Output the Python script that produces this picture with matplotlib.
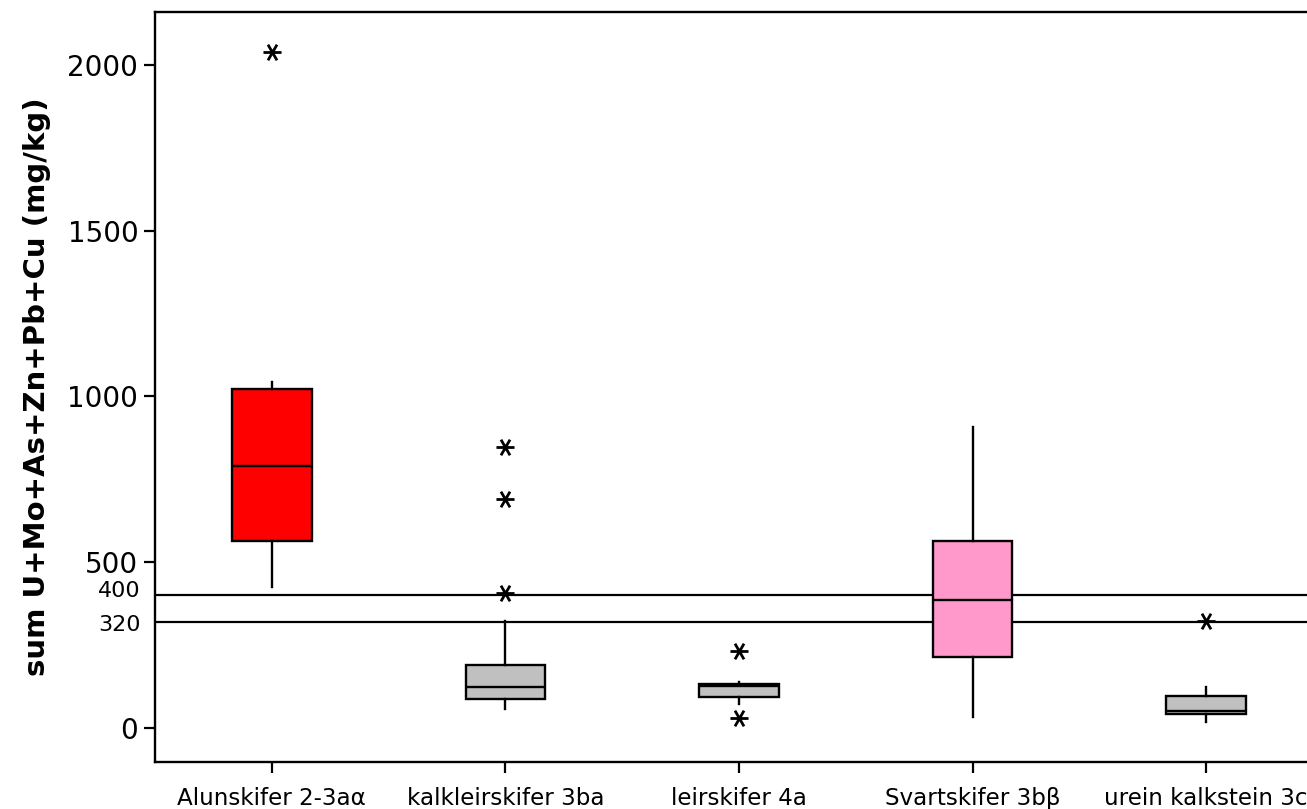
import matplotlib.pyplot as plt
from matplotlib.path import Path

categories = ['Alunskifer 2-3aα', 'kalkleirskifer 3ba', 'leirskifer 4a',
              'Svartskifer 3bβ', 'urein kalkstein 3c']
q1 = [565, 87, 93, 213, 41]
med = [790, 123, 125, 386, 52]
q3 = [1022, 190, 133, 565, 95]
whislo = [424, 57, 72, 34, 19]
whishi = [1043, 323, 139, 909, 123]
fliers = [[2040], [847, 690, 406], [233, 29], [], [323]]
box_colors = ['#FF0000', '#C0C0C0', '#C0C0C0', '#FF99CC', '#C0C0C0']

limits = [400, 320]

plt.rcParams['font.family'] = ['DejaVu Sans']

fig = plt.figure(figsize=(13.07, 8.09), dpi=100)
ax = fig.add_axes([155 / 1307, 47 / 809, 1168 / 1307, 750 / 809])

stats = []
for i, name in enumerate(categories):
    stats.append(dict(label=name, q1=q1[i], med=med[i], q3=q3[i],
                      whislo=whislo[i], whishi=whishi[i], fliers=fliers[i]))

# six-armed asterisk for outliers
star = Path([(-1, 0), (1, 0), (-0.5, -0.866), (0.5, 0.866),
             (-0.5, 0.866), (0.5, -0.866)],
            [Path.MOVETO, Path.LINETO] * 3)

bp = ax.bxp(stats, positions=range(1, 6), widths=0.34, patch_artist=True,
            showcaps=False,
            boxprops=dict(linewidth=1.7, edgecolor='black'),
            medianprops=dict(color='black', linewidth=1.7),
            whiskerprops=dict(color='black', linewidth=1.7),
            flierprops=dict(marker=star, markersize=13, markeredgewidth=2.0,
                            markeredgecolor='black', markerfacecolor='none'))
for patch, c in zip(bp['boxes'], box_colors):
    patch.set_facecolor(c)

for v in limits:
    ax.axhline(v, color='black', linewidth=1.6, zorder=1)

ax.set_xlim(0.5, 5.5)
ax.set_ylim(-103, 2160)
ax.set_yticks([0, 500, 1000, 1500, 2000])
ax.tick_params(axis='y', labelsize=20, length=8, width=1.6, pad=4)
ax.tick_params(axis='x', labelsize=16.6, length=8, width=1.6, pad=10)

# threshold labels next to the axis
ytrans = ax.get_yaxis_transform()
ax.text(-0.012, 414, '400', transform=ytrans, ha='right', va='center',
        fontsize=16)
ax.text(-0.012, 309, '320', transform=ytrans, ha='right', va='center',
        fontsize=16)

ax.set_ylabel('sum U+Mo+As+Zn+Pb+Cu (mg/kg)', fontsize=21,
              fontweight='bold', labelpad=12)

for s in ax.spines.values():
    s.set_linewidth(1.7)

fig.savefig('out.png', dpi=100)
